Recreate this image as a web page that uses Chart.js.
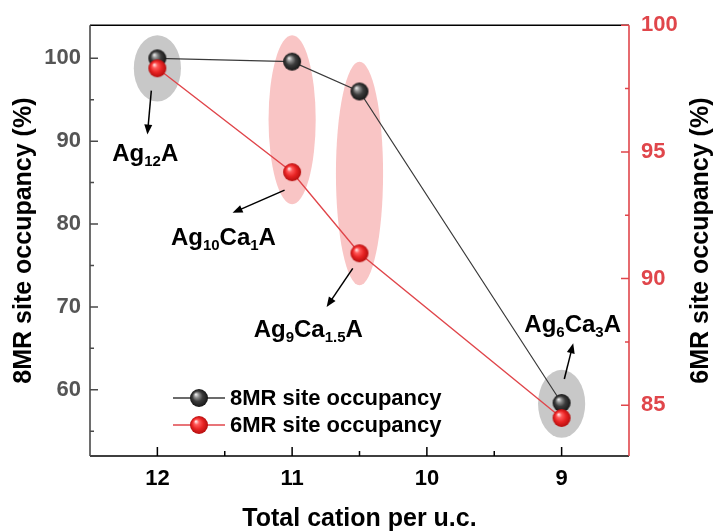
<!DOCTYPE html>
<html><head><meta charset="utf-8">
<script src="https://cdn.jsdelivr.net/npm/chart.js@4/dist/chart.umd.min.js"></script>
<style>html,body{margin:0;padding:0;background:#fff}canvas{display:block}</style>
</head><body>
<canvas id="c" width="713" height="531"></canvas>
<script>
// Site occupancy versus total cation count per unit cell
const cations = [12, 11, 10.5, 9];
const occ8MR = [100.0, 99.6, 96.0, 58.4];
const occ6MR = [98.3, 94.2, 91.0, 84.5];
const xTicks = [12, 11, 10, 9];
const leftTicks = [60, 70, 80, 90, 100];
const rightTicks = [85, 90, 95, 100];
const seriesNames = ['8MR site occupancy', '6MR site occupancy'];
const sampleNames = ['Ag_{12}A', 'Ag_{10}Ca_{1}A', 'Ag_{9}Ca_{1.5}A', 'Ag_{6}Ca_{3}A'];
const xTitle = 'Total cation per u.c.';
const leftTitle = '8MR site occupancy (%)';
const rightTitle = '6MR site occupancy (%)';

// Callout layout for each sample (x axis units, left y axis units)
const callouts = [
  {shade: 'rgb(200,200,200)', ex: 12,   ey: 98.8, erx: 0.175, ery: 4.0,  lx: 12.09, ly: 87.6, arrow: [12.045, 96.1, 12.074, 90.8]},
  {shade: 'rgb(249,197,197)', ex: 11,   ey: 92.6, erx: 0.175, ery: 10.2, lx: 11.51, ly: 77.5, arrow: [11.056, 84.1, 11.442, 81.35]},
  {shade: 'rgb(249,197,197)', ex: 10.5, ey: 86.1, erx: 0.175, ery: 13.5, lx: 10.88, ly: 66.4, arrow: [10.55, 74.65, 10.744, 69.98]},
  {shade: 'rgb(200,200,200)', ex: 9,    ey: 58.3, erx: 0.175, ery: 4.1,  lx: 8.918, ly: 67.0, arrow: [8.98, 61.3, 8.914, 65.6]}
];

const FONT = '"Liberation Sans", Arial, sans-serif';
const RED = '#e0464b';
const AXIS_GREY = '#4a4a4a';

function sphere(r, stops) {
  const c = document.createElement('canvas');
  c.width = c.height = 2 * r + 2;
  const g = c.getContext('2d');
  const cx = r + 1, cy = r + 1;
  const grad = g.createRadialGradient(cx - r * 0.35, cy - r * 0.4, r * 0.05, cx, cy, r);
  stops.forEach(([o, col]) => grad.addColorStop(o, col));
  g.fillStyle = grad;
  g.beginPath(); g.arc(cx, cy, r, 0, Math.PI * 2); g.fill();
  return c;
}
const blackBall = sphere(9, [[0, '#e6e6e6'], [0.25, '#8a8a8a'], [0.55, '#3c3c3c'], [1, '#161616']]);
const redBall = sphere(9, [[0, '#ffe0e0'], [0.25, '#ff5a5a'], [0.6, '#e82424'], [1, '#b50e0e']]);

function drawRich(ctx, str, cx, baseline, size, subSize, color) {
  const parts = [];
  const re = /_\{([^}]*)\}|([^_]+)/g;
  let m;
  while ((m = re.exec(str))) {
    if (m[1] !== undefined) parts.push({t: m[1], sub: true});
    else parts.push({t: m[2], sub: false});
  }
  let w = 0;
  parts.forEach(p => {
    ctx.font = 'bold ' + (p.sub ? subSize : size) + 'px ' + FONT;
    p.w = ctx.measureText(p.t).width;
    w += p.w;
  });
  let x = cx - w / 2;
  ctx.fillStyle = color;
  ctx.textBaseline = 'alphabetic';
  ctx.textAlign = 'left';
  parts.forEach(p => {
    ctx.font = 'bold ' + (p.sub ? subSize : size) + 'px ' + FONT;
    ctx.fillText(p.t, x, baseline + (p.sub ? 5 : 0));
    x += p.w;
  });
}

function arrow(ctx, x1, y1, x2, y2) {
  const ang = Math.atan2(y2 - y1, x2 - x1);
  const L = 10, W = 4;
  ctx.strokeStyle = '#000'; ctx.fillStyle = '#000'; ctx.lineWidth = 1.5;
  ctx.beginPath(); ctx.moveTo(x1, y1);
  ctx.lineTo(x2 - Math.cos(ang) * L * 0.8, y2 - Math.sin(ang) * L * 0.8); ctx.stroke();
  ctx.beginPath();
  ctx.moveTo(x2, y2);
  ctx.lineTo(x2 - Math.cos(ang) * L - Math.sin(ang) * W, y2 - Math.sin(ang) * L + Math.cos(ang) * W);
  ctx.lineTo(x2 - Math.cos(ang) * L + Math.sin(ang) * W, y2 - Math.sin(ang) * L - Math.cos(ang) * W);
  ctx.closePath(); ctx.fill();
}

function minors(ticks, min, max) {
  const out = [];
  const step = ticks[1] - ticks[0];
  const sorted = ticks.slice().sort((a, b) => a - b);
  const d = Math.abs(step) / 2;
  for (let v = sorted[0] - d; v <= sorted[sorted.length - 1] + d + 1e-9; v += Math.abs(step)) {
    if (v > min + 1e-9 && v < max - 1e-9) out.push(v);
  }
  return out;
}

const shading = {
  id: 'shading',
  beforeDatasetsDraw(chart) {
    const {ctx, scales: {x, y}} = chart;
    ctx.save();
    callouts.forEach(c => {
      const cx = x.getPixelForValue(c.ex), cy = y.getPixelForValue(c.ey);
      const rx = Math.abs(x.getPixelForValue(c.ex + c.erx) - cx);
      const ry = Math.abs(y.getPixelForValue(c.ey + c.ery) - cy);
      ctx.fillStyle = c.shade;
      ctx.beginPath(); ctx.ellipse(cx, cy, rx, ry, 0, 0, Math.PI * 2); ctx.fill();
    });
    ctx.restore();
  }
};

const decorations = {
  id: 'decorations',
  afterDatasetsDraw(chart) {
    const {ctx, chartArea: a, scales: {x, y, y1}} = chart;
    ctx.save();
    // callout arrows and sample names
    callouts.forEach((c, i) => {
      const [ax1, ay1, ax2, ay2] = c.arrow;
      arrow(ctx, x.getPixelForValue(ax1), y.getPixelForValue(ay1), x.getPixelForValue(ax2), y.getPixelForValue(ay2));
      drawRich(ctx, sampleNames[i], x.getPixelForValue(c.lx), y.getPixelForValue(c.ly), 24, 15, '#000');
    });

    // legend
    const items = [{c: '#3a3a3a', ball: blackBall}, {c: RED, ball: redBall}];
    items.forEach((it, i) => {
      const ly = a.bottom - 58 + i * 27;
      const lx = a.left + 83;
      ctx.strokeStyle = it.c; ctx.lineWidth = 1.3;
      ctx.beginPath(); ctx.moveTo(lx, ly); ctx.lineTo(lx + 52, ly); ctx.stroke();
      ctx.drawImage(it.ball, lx + 26 - it.ball.width / 2, ly - it.ball.height / 2);
      ctx.fillStyle = '#000'; ctx.font = 'bold 22px ' + FONT;
      ctx.textAlign = 'left'; ctx.textBaseline = 'middle';
      ctx.fillText(seriesNames[i], lx + 57, ly + 1);
    });

    // frame and tick marks
    ctx.lineWidth = 1.6;
    ctx.strokeStyle = '#000';
    ctx.beginPath();
    ctx.moveTo(a.left, a.bottom); ctx.lineTo(a.right, a.bottom);
    ctx.moveTo(a.left, a.top); ctx.lineTo(a.right, a.top);
    ctx.stroke();
    ctx.strokeStyle = AXIS_GREY;
    ctx.beginPath(); ctx.moveTo(a.left, a.top); ctx.lineTo(a.left, a.bottom); ctx.stroke();
    ctx.strokeStyle = RED;
    ctx.beginPath(); ctx.moveTo(a.right, a.top); ctx.lineTo(a.right, a.bottom); ctx.stroke();

    ctx.lineWidth = 1.5;
    ctx.strokeStyle = '#000';
    ctx.beginPath();
    xTicks.forEach(v => { const p = x.getPixelForValue(v); ctx.moveTo(p, a.bottom); ctx.lineTo(p, a.bottom - 9); });
    minors(xTicks, x.min, x.max).forEach(v => { const p = x.getPixelForValue(v); ctx.moveTo(p, a.bottom); ctx.lineTo(p, a.bottom - 5); });
    ctx.stroke();
    ctx.strokeStyle = AXIS_GREY;
    ctx.beginPath();
    leftTicks.forEach(v => { const p = y.getPixelForValue(v); ctx.moveTo(a.left, p); ctx.lineTo(a.left + 8, p); });
    minors(leftTicks, y.min, y.max).forEach(v => { const p = y.getPixelForValue(v); ctx.moveTo(a.left, p); ctx.lineTo(a.left + 4, p); });
    ctx.stroke();
    ctx.strokeStyle = RED;
    ctx.beginPath();
    rightTicks.forEach(v => { const p = y1.getPixelForValue(v); ctx.moveTo(a.right, p); ctx.lineTo(a.right - 8, p); });
    minors(rightTicks, y1.min, y1.max).forEach(v => { const p = y1.getPixelForValue(v); ctx.moveTo(a.right, p); ctx.lineTo(a.right - 4, p); });
    ctx.stroke();

    // right axis title, reading bottom to top
    ctx.save();
    ctx.translate(701, (a.top + a.bottom) / 2);
    ctx.rotate(-Math.PI / 2);
    ctx.fillStyle = '#000'; ctx.font = 'bold 25px ' + FONT;
    ctx.textAlign = 'center'; ctx.textBaseline = 'middle';
    ctx.fillText(rightTitle, 0, 0);
    ctx.restore();
    ctx.restore();
  }
};

const tickFont = {family: FONT, size: 22, weight: 'bold'};
const titleFont = {family: FONT, size: 25, weight: 'bold', lineHeight: 1};

new Chart(document.getElementById('c'), {
  type: 'line',
  data: {
    datasets: [
      {
        label: seriesNames[1], yAxisID: 'y1', order: 0,
        data: cations.map((c, i) => ({x: c, y: occ6MR[i]})),
        borderColor: RED, borderWidth: 1.4, pointStyle: redBall, pointRadius: 9, tension: 0
      },
      {
        label: seriesNames[0], yAxisID: 'y', order: 1,
        data: cations.map((c, i) => ({x: c, y: occ8MR[i]})),
        borderColor: '#3a3a3a', borderWidth: 1.2, pointStyle: blackBall, pointRadius: 9, tension: 0
      }
    ]
  },
  options: {
    responsive: false,
    animation: false,
    devicePixelRatio: 1,
    layout: {padding: {top: 21, left: 0, right: 0, bottom: 0}},
    plugins: {legend: {display: false}, tooltip: {enabled: false}},
    scales: {
      x: {
        type: 'linear', reverse: true, min: 8.5, max: 12.5,
        grid: {display: false, drawTicks: false}, border: {display: false},
        afterBuildTicks: s => { s.ticks = xTicks.map(v => ({value: v})); },
        afterFit: s => { s.height = 75; },
        ticks: {font: tickFont, color: '#000', padding: 10, maxRotation: 0, callback: v => String(v)},
        title: {display: true, text: xTitle, font: titleFont, color: '#000', padding: {top: 0, bottom: -1}}
      },
      y: {
        type: 'linear', position: 'left', min: 52, max: 104,
        grid: {display: false, drawTicks: false}, border: {display: false},
        afterBuildTicks: s => { s.ticks = leftTicks.map(v => ({value: v})); },
        afterFit: s => { s.width = 90; },
        ticks: {font: tickFont, color: '#555555', padding: 9},
        title: {display: true, text: leftTitle, font: titleFont, color: '#000', padding: {top: 12, bottom: 0}}
      },
      y1: {
        type: 'linear', position: 'right', min: 83, max: 100,
        grid: {display: false, drawTicks: false}, border: {display: false},
        afterBuildTicks: s => { s.ticks = rightTicks.map(v => ({value: v})); },
        afterFit: s => { s.width = 84; },
        ticks: {font: tickFont, color: RED, padding: 12}
      }
    }
  },
  plugins: [shading, decorations]
});
</script>
</body></html>
